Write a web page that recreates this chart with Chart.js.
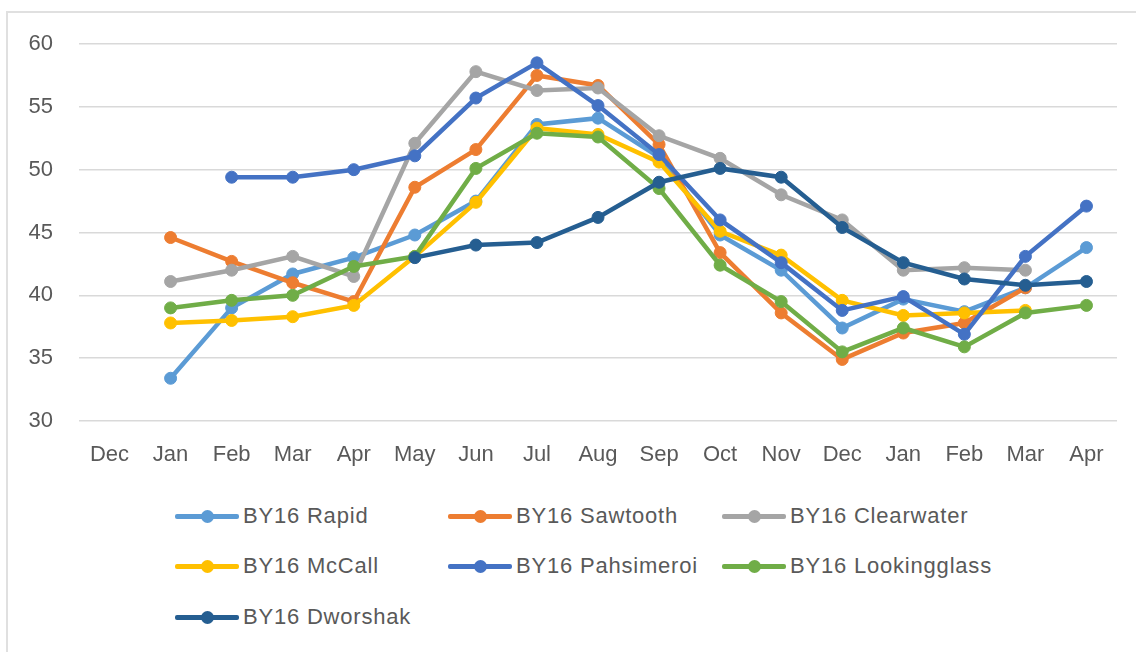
<!DOCTYPE html>
<html><head><meta charset="utf-8">
<script src="https://cdn.jsdelivr.net/npm/chart.js@4"></script>
<style>
html,body{margin:0;padding:0;background:#fff;}
#wrap{position:relative;width:1136px;height:652px;overflow:hidden;background:#fff;}
#frame{position:absolute;left:6px;top:11px;width:1300px;height:800px;border:2px solid #e0e0e0;box-sizing:border-box;}
#cv{position:absolute;left:0;top:0;}
.li{position:absolute;height:30px;font:22px "Liberation Sans",Arial,sans-serif;color:#595959;white-space:nowrap;}
.li .ln{position:absolute;left:0;top:13px;width:64px;height:5px;border-radius:2px;}
.li .dt{position:absolute;left:26px;top:9px;width:13px;height:13px;border-radius:50%;}
.li .tx{position:absolute;left:68px;top:2px;line-height:26px;letter-spacing:0.8px;}
</style>
</head><body>
<div id="wrap">
<div id="frame"></div>
<canvas id="cv" width="1136" height="480"></canvas>
<div id="legend"></div>
</div>
<script>
const categories = ["Dec","Jan","Feb","Mar","Apr","May","Jun","Jul","Aug","Sep","Oct","Nov","Dec","Jan","Feb","Mar","Apr"];
const seriesNames = ["BY16 Rapid","BY16 Sawtooth","BY16 Clearwater","BY16 McCall","BY16 Pahsimeroi","BY16 Lookingglass","BY16 Dworshak"];
const rapid        = [null,33.4,39.0,41.7,43.0,44.8,47.5,53.6,54.1,51.0,44.8,42.0,37.4,39.7,38.7,40.6,43.8];
const sawtooth     = [null,44.6,42.7,41.0,39.5,48.6,51.6,57.5,56.7,52.0,43.4,38.6,34.9,37.0,37.8,40.6,null];
const clearwater   = [null,41.1,42.0,43.1,41.5,52.1,57.8,56.3,56.5,52.7,50.9,48.0,46.0,42.0,42.2,42.0,null];
const mccall       = [null,37.8,38.0,38.3,39.2,43.1,47.4,53.3,52.8,50.6,45.1,43.2,39.6,38.4,38.6,38.8,null];
const pahsimeroi   = [null,null,49.4,49.4,50.0,51.1,55.7,58.5,55.1,51.2,46.0,42.6,38.8,39.9,36.9,43.1,47.1];
const lookingglass = [null,39.0,39.6,40.0,42.3,43.1,50.1,52.9,52.6,48.5,42.4,39.5,35.5,37.4,35.9,38.6,39.2];
const dworshak     = [null,null,null,null,null,43.0,44.0,44.2,46.2,49.0,50.1,49.4,45.4,42.6,41.3,40.8,41.1];
const yTicks = [30,35,40,45,50,55,60];

const seriesData = [rapid,sawtooth,clearwater,mccall,pahsimeroi,lookingglass,dworshak];
const colors = ["#5B9BD5","#ED7D31","#A5A5A5","#FFC000","#4472C4","#70AD47","#255E91"];
const FONT = {family:'"Liberation Sans", Arial, sans-serif', size:22};

const datasets = seriesData.map((d,i)=>({
  label: seriesNames[i],
  data: d,
  borderColor: colors[i],
  backgroundColor: colors[i],
  pointBackgroundColor: colors[i],
  pointBorderColor: colors[i],
  borderWidth: 4.5,
  pointRadius: 6,
  pointBorderWidth: 1,
  tension: 0,
  spanGaps: false,
  order: seriesData.length - i
}));

new Chart(document.getElementById('cv'), {
  type: 'line',
  data: { labels: categories, datasets },
  options: {
    responsive: false,
    animation: false,
    layout: { padding: { top: 44, right: 19, left: 0, bottom: 0 } },
    plugins: { legend: { display: false }, tooltip: { enabled: false } },
    scales: {
      x: {
        offset: true,
        grid: { display: false, drawTicks: false },
        border: { display: false },
        ticks: { color: '#595959', font: FONT, padding: 21, maxRotation: 0, autoSkip: false },
        afterFit: s => { s.height = 59; }
      },
      y: {
        min: 30, max: 60,
        afterBuildTicks: s => { s.ticks = yTicks.map(v => ({value: v})); },
        grid: { color: '#d9d9d9', lineWidth: 1.5, drawTicks: false },
        border: { display: false },
        ticks: { color: '#595959', font: FONT, padding: 26 },
        afterFit: s => { s.width = 79; }
      }
    }
  }
});

// HTML legend in three columns
const legend = document.getElementById('legend');
const colX = [175, 448, 722];
const rowY = [501, 551, 602];
seriesNames.forEach((name,i)=>{
  const el = document.createElement('div');
  el.className = 'li';
  el.style.left = colX[i%3] + 'px';
  el.style.top = rowY[Math.floor(i/3)] + 'px';
  el.innerHTML = '<span class="ln" style="background:'+colors[i]+'"></span><span class="dt" style="background:'+colors[i]+'"></span><span class="tx"></span>';
  el.querySelector('.tx').textContent = name;
  legend.appendChild(el);
});
</script>
</body></html>
